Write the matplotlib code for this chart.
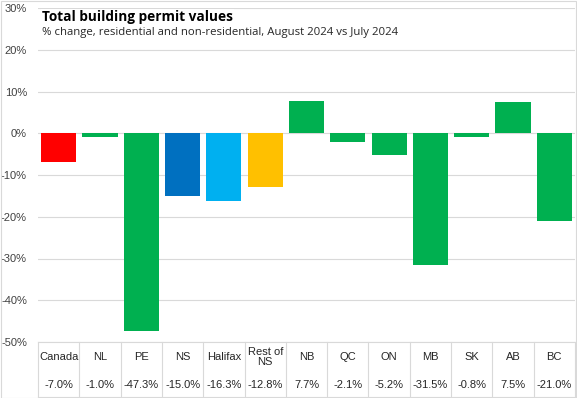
import matplotlib.pyplot as plt

# Data
regions = ["Canada", "NL", "PE", "NS", "Halifax", "Rest of\nNS", "NB", "QC", "ON", "MB", "SK", "AB", "BC"]
changes = [-7.0, -1.0, -47.3, -15.0, -16.3, -12.8, 7.7, -2.1, -5.2, -31.5, -0.8, 7.5, -21.0]
colors = ["#FF0000", "#00B050", "#00B050", "#0070C0", "#00B0F0", "#FFC000", "#00B050",
          "#00B050", "#00B050", "#00B050", "#00B050", "#00B050", "#00B050"]
yticks = [-50, -40, -30, -20, -10, 0, 10, 20, 30]

W, H = 577, 398
fig = plt.figure(figsize=(W / 100, H / 100), dpi=100)
ax = fig.add_axes([38 / W, (H - 342) / H, (575 - 38) / W, (342 - 8) / H])

n = len(regions)
x = list(range(n))
ax.bar(x, changes, width=0.85, color=colors, zorder=3)
ax.set_xlim(-0.5, n - 0.5)
ax.set_ylim(-50, 30)
ax.set_yticks(yticks)
ax.set_yticklabels([f"{t}%" for t in yticks], fontsize=8, color="#404040", family="Liberation Sans")
ax.tick_params(axis="y", length=0, pad=8)
ax.set_xticks([])
ax.grid(axis="y", color="#D9D9D9", linewidth=0.8, zorder=0)
for s in ["top", "right", "left"]:
    ax.spines[s].set_visible(False)
ax.spines["bottom"].set_color("#D9D9D9")

# table under the chart
trans = ax.get_xaxis_transform()
ybot = -(397 - 342) / (342 - 8)
for i in range(n + 1):
    ax.plot([i - 0.5, i - 0.5], [0, ybot], transform=trans, color="#D9D9D9", lw=0.8, clip_on=False)
ax.plot([-0.5, n - 0.5], [ybot, ybot], transform=trans, color="#D9D9D9", lw=0.8, clip_on=False)
ylab = -(357 - 342) / (342 - 8)
yval = -(385 - 342) / (342 - 8)
for i, (r, v) in enumerate(zip(regions, changes)):
    ax.text(i, ylab, r, transform=trans, ha="center", va="center", fontsize=8,
            color="#262626", family="Liberation Sans", linespacing=1.1)
    ax.text(i, yval, f"{v:.1f}%", transform=trans, ha="center", va="center", fontsize=8,
            color="#262626", family="Liberation Sans")

# title block
fig.text(42 / W, 1 - 17 / H, "Total building permit values", fontsize=9.8, fontweight="bold",
         family="Open Sans", va="center", ha="left", color="black",
         bbox=dict(facecolor="white", edgecolor="none", pad=1))
fig.text(42 / W, 1 - 33 / H, "% change, residential and non-residential, August 2024 vs July 2024",
         fontsize=8.2, family="Open Sans", va="center", ha="left", color="#262626",
         bbox=dict(facecolor="white", edgecolor="none", pad=1))

# outer border
fig.patches.append(plt.Rectangle((0.001, 0.001), 0.997, 0.997, transform=fig.transFigure,
                                 fill=False, edgecolor="#D9D9D9", lw=0.8))

fig.savefig("out.png", dpi=100)
